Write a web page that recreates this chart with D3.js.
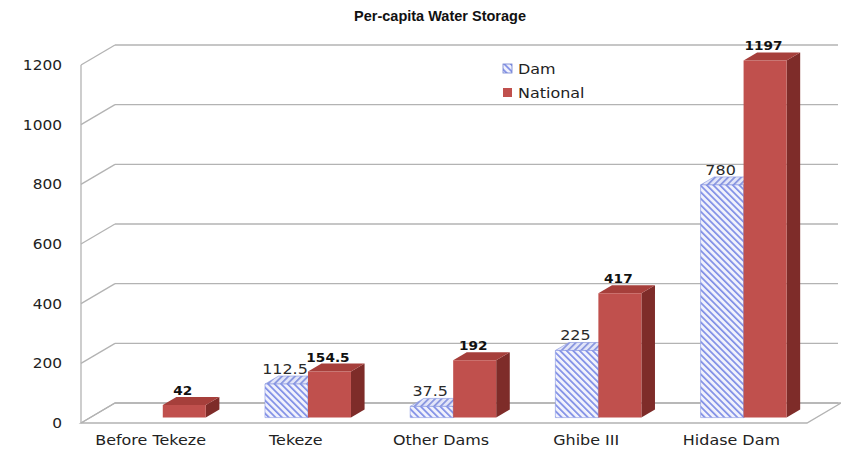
<!DOCTYPE html>
<html>
<head>
<meta charset="utf-8">
<script src="https://cdn.jsdelivr.net/npm/d3@7/dist/d3.min.js"></script>
<style>
  html, body { margin: 0; padding: 0; background: #ffffff; }
  svg { display: block; }
</style>
</head>
<body>
<svg id="chart" width="841" height="453"></svg>
<script>
// Per-capita water storage, dam vs national
const categories = ["Before Tekeze", "Tekeze", "Other Dams", "Ghibe III", "Hidase Dam"];
const damValues = [null, 112.5, 37.5, 225, 780];
const nationalValues = [42, 154.5, 192, 417, 1197];
const seriesNames = ["Dam", "National"];
const yTicks = [0, 200, 400, 600, 800, 1000, 1200];

const svg = d3.select("#chart");

// 3D frame: front plane and a depth offset toward the upper right
const front = { left: 81, right: 807, bottom: 423, top: 65 };
const DEPTH = { dx: 34, dy: 20 };
const backRight = 838;
const barDepth = [0.27, 0.67];   // bars sit between these depth fractions
const barWidth = 43;
const textStretch = 1.14;

const y = d3.scaleLinear().domain([0, 1200]).range([front.bottom, front.top]);
const x = d3.scaleBand().domain(categories).range([front.left, front.right]);
const xs = d3.scaleBand().domain(seriesNames).range([-barWidth, barWidth]);

// project a point at front x, value v and depth fraction d
const P = (px, v, d) => [px + d * DEPTH.dx, y(v) - d * DEPTH.dy];
const poly = pts => "M" + pts.map(p => p.join(",")).join("L") + "Z";

// hatch patterns for the Dam series
const defs = svg.append("defs");
function hatch(id, bg, stroke, dir) {
  const p = defs.append("pattern").attr("id", id)
    .attr("patternUnits", "userSpaceOnUse").attr("width", 4.6).attr("height", 4.6)
    .attr("patternTransform", `rotate(${dir})`);
  p.append("rect").attr("width", 4.6).attr("height", 4.6).attr("fill", bg);
  p.append("rect").attr("x", 0).attr("y", 0).attr("width", 1.7).attr("height", 4.6).attr("fill", stroke);
}
hatch("damFront", "#f1f2fc", "#7f8ee6", -45);
hatch("damTop", "#e2e5f8", "#8593df", 45);
hatch("damSide", "#c9cff0", "#6f7fcf", -45);

const grid = svg.append("g").attr("stroke", "#b3b3b3").attr("stroke-width", 1.3).attr("fill", "none");

// floor
grid.append("path").attr("d", poly([
  P(front.left, 0, 0), P(front.right, 0, 0), P(front.right, 0, 1), P(front.left, 0, 1)
]));

// side wall diagonals and back wall gridlines
yTicks.forEach(t => {
  const a = P(front.left, t, 0), b = P(front.left, t, 1);
  grid.append("line").attr("x1", a[0]).attr("y1", a[1]).attr("x2", b[0]).attr("y2", b[1]);
  grid.append("line").attr("x1", b[0]).attr("y1", b[1]).attr("x2", backRight).attr("y2", b[1]);
});
// vertical value axis at the front
grid.append("line").attr("x1", front.left).attr("y1", y(0)).attr("x2", front.left).attr("y2", y(1200));

// y tick labels
const yAxis = svg.append("g");
yTicks.forEach(t => {
  yAxis.append("text")
    .attr("transform", `translate(62,${y(t)}) scale(${textStretch},1)`)
    .attr("dy", "0.36em")
    .attr("text-anchor", "end")
    .attr("font-family", "DejaVu Sans")
    .attr("font-size", 13.5)
    .attr("fill", "#222")
    .text(t);
});

// x category labels
const xAxis = svg.append("g");
categories.forEach(c => {
  xAxis.append("text")
    .attr("transform", `translate(${x(c) + x.bandwidth() / 2 - 3},445) scale(${textStretch},1)`)
    .attr("text-anchor", "middle")
    .attr("font-family", "DejaVu Sans")
    .attr("font-size", 14)
    .attr("fill", "#222")
    .text(c);
});

// bars
const styles = {
  Dam: { front: "url(#damFront)", top: "url(#damTop)", side: "url(#damSide)", stroke: "#8494e0" },
  National: { front: "#c0504d", top: "#a63f3b", side: "#7e2c29", stroke: "none" }
};
const bars = svg.append("g");
const labels = [];
categories.forEach((c, i) => {
  const cx = x(c) + x.bandwidth() / 2;
  [["Dam", damValues[i]], ["National", nationalValues[i]]].forEach(([s, v]) => {
    if (v == null) return;
    const x0 = cx + xs(s), x1 = x0 + xs.bandwidth();
    const d0 = barDepth[0], d1 = barDepth[1];
    const st = styles[s];
    const g = bars.append("g").attr("stroke", st.stroke).attr("stroke-width", 0.6);
    // right side face
    g.append("path").attr("fill", st.side).attr("d", poly([
      P(x1, 0, d0), P(x1, 0, d1), P(x1, v, d1), P(x1, v, d0)
    ]));
    // top face
    g.append("path").attr("fill", st.top).attr("d", poly([
      P(x0, v, d0), P(x1, v, d0), P(x1, v, d1), P(x0, v, d1)
    ]));
    // front face
    g.append("path").attr("fill", st.front).attr("d", poly([
      P(x0, 0, d0), P(x1, 0, d0), P(x1, v, d0), P(x0, v, d0)
    ]));
    const tp = P((x0 + x1) / 2, v, d0);
    labels.push({ x: tp[0] - 1.5, y: tp[1] - 10, v, s });
  });
});

// value labels
const lab = svg.append("g");
labels.forEach(l => {
  lab.append("text")
    .attr("transform", `translate(${l.x},${l.y}) scale(${textStretch},1)`)
    .attr("text-anchor", "middle")
    .attr("font-family", "DejaVu Sans")
    .attr("font-size", l.s === "National" ? 12 : 14)
    .attr("font-weight", l.s === "National" ? "bold" : "normal")
    .attr("fill", l.s === "National" ? "#111" : "#2a2a2a")
    .text(l.v);
});

// legend
const legend = svg.append("g").attr("transform", "translate(503,64)");
seriesNames.forEach((s, i) => {
  const gy = i * 24;
  legend.append("rect").attr("x", 0).attr("y", gy).attr("width", 9).attr("height", 9)
    .attr("fill", s === "Dam" ? "url(#damFront)" : "#c0504d")
    .attr("stroke", s === "Dam" ? "#6f7fcf" : "none").attr("stroke-width", 0.8);
  legend.append("text")
    .attr("transform", `translate(15,${gy + 9.5}) scale(${textStretch},1)`)
    .attr("font-family", "DejaVu Sans")
    .attr("font-size", 14)
    .attr("fill", "#222")
    .text(s);
});

// title
svg.append("text")
  .attr("x", 440).attr("y", 21)
  .attr("text-anchor", "middle")
  .attr("font-family", "Liberation Sans")
  .attr("font-weight", "bold")
  .attr("font-size", 14.5)
  .attr("fill", "#111")
  .text("Per-capita Water Storage");
</script>
</body>
</html>
